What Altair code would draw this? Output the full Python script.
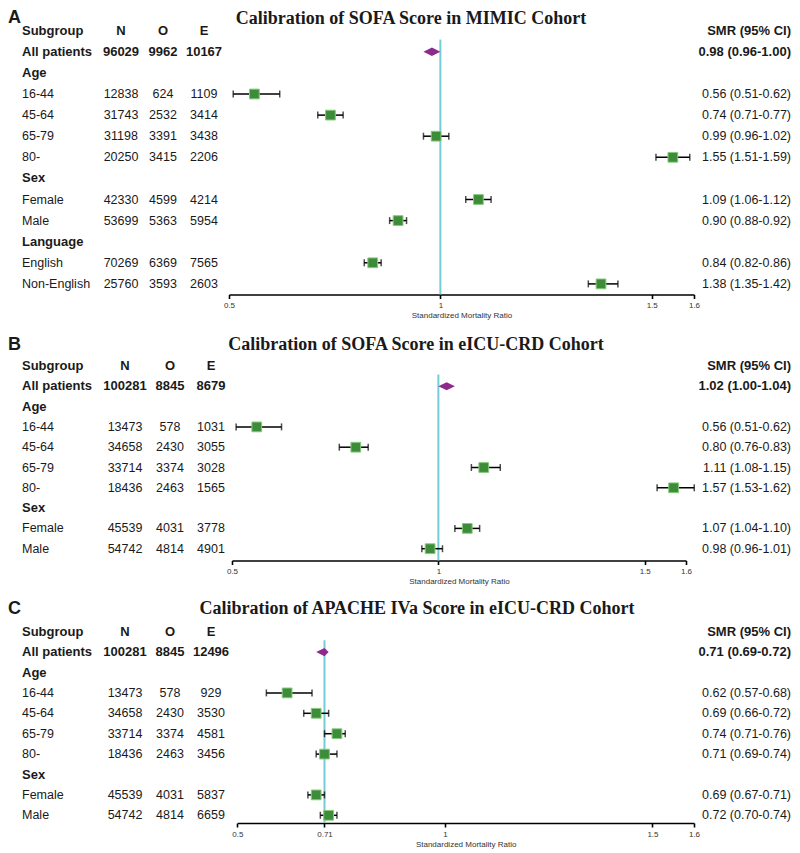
import altair as alt
import pandas as pd

# ---------------- data ----------------
A_labels = ["All patients", "Age", "16-44", "45-64", "65-79", "80-", "Sex", "Female", "Male",
            "Language", "English", "Non-English"]
A_N = ["96029", "", "12838", "31743", "31198", "20250", "", "42330", "53699", "", "70269", "25760"]
A_O = ["9962", "", "624", "2532", "3391", "3415", "", "4599", "5363", "", "6369", "3593"]
A_E = ["10167", "", "1109", "3414", "3438", "2206", "", "4214", "5954", "", "7565", "2603"]
A_smr = [0.98, None, 0.56, 0.74, 0.99, 1.55, None, 1.09, 0.90, None, 0.84, 1.38]
A_lo = [0.96, None, 0.51, 0.71, 0.96, 1.51, None, 1.06, 0.88, None, 0.82, 1.35]
A_hi = [1.00, None, 0.62, 0.77, 1.02, 1.59, None, 1.12, 0.92, None, 0.86, 1.42]

B_labels = ["All patients", "Age", "16-44", "45-64", "65-79", "80-", "Sex", "Female", "Male"]
B_N = ["100281", "", "13473", "34658", "33714", "18436", "", "45539", "54742"]
B_O = ["8845", "", "578", "2430", "3374", "2463", "", "4031", "4814"]
B_E = ["8679", "", "1031", "3055", "3028", "1565", "", "3778", "4901"]
B_smr = [1.02, None, 0.56, 0.80, 1.11, 1.57, None, 1.07, 0.98]
B_lo = [1.00, None, 0.51, 0.76, 1.08, 1.53, None, 1.04, 0.96]
B_hi = [1.04, None, 0.62, 0.83, 1.15, 1.62, None, 1.10, 1.01]

C_labels = ["All patients", "Age", "16-44", "45-64", "65-79", "80-", "Sex", "Female", "Male"]
C_N = ["100281", "", "13473", "34658", "33714", "18436", "", "45539", "54742"]
C_O = ["8845", "", "578", "2430", "3374", "2463", "", "4031", "4814"]
C_E = ["12496", "", "929", "3530", "4581", "3456", "", "5837", "6659"]
C_smr = [0.71, None, 0.62, 0.69, 0.74, 0.71, None, 0.69, 0.72]
C_lo = [0.69, None, 0.57, 0.66, 0.71, 0.69, None, 0.67, 0.70]
C_hi = [0.72, None, 0.68, 0.72, 0.76, 0.74, None, 0.71, 0.74]

header_cols = ["Subgroup", "N", "O", "E", "SMR (95% CI)"]
titles = ["Calibration of SOFA Score in MIMIC Cohort",
          "Calibration of SOFA Score in eICU-CRD Cohort",
          "Calibration of APACHE IVa Score in eICU-CRD Cohort"]
letters = ["A", "B", "C"]
ref_values = [1.0, 1.0, 0.71]
tick_sets = [[0.5, 1, 1.5, 1.6], [0.5, 1, 1.5, 1.6], [0.5, 0.71, 1, 1.5, 1.6]]
x_domain = [0.5, 1.6]
axis_title = "Standardized Mortality Ratio"

TXT = "#1a1a1a"
GREEN = "#3d8c3a"
GREEN_EDGE = "#86c97c"
PURPLE = "#8e2a8e"
CYAN = "#74cdd6"
SANS = "Liberation Sans"
SERIF = "Liberation Serif"


def panel(i, labels, N, O, E, smr, lo, hi, top, H, header, step, axis_py,
          xr, cN, cO, cE, title_cx, title_y, letter_y):
    d0 = -(header - top) / step
    d1 = d0 + H / step
    yscale = alt.Scale(domain=[d0, d1], reverse=True, nice=False, zero=False)
    xaxis = alt.Axis(values=tick_sets[i], format=".2~f", title=axis_title,
                     offset=(axis_py - top) - H, grid=False, domainColor="black",
                     domainWidth=1.6, tickColor="black", tickWidth=1.6, tickSize=4,
                     labelFontSize=8, labelFont=SANS, labelColor="#333",
                     labelPadding=3, labelFlush=False, labelOverlap=False,
                     titleFont=SANS, titleFontSize=8, titleFontWeight="normal",
                     titleColor="#333", titlePadding=2)
    xscale = alt.Scale(domain=x_domain, range=xr, nice=False, zero=False)

    rows = list(range(1, len(labels) + 1))
    tab = pd.DataFrame({
        "row": rows, "label": labels, "N": N, "O": O, "E": E,
        "smr_txt": [f"{s:.2f} ({l:.2f}-{h:.2f})" if s is not None else ""
                    for s, l, h in zip(smr, lo, hi)],
        "bold": [1 if (lab == "All patients" or n == "") else 0 for lab, n in zip(labels, N)],
    })
    head = pd.DataFrame({"row": [0], "label": [header_cols[0]], "N": [header_cols[1]],
                         "O": [header_cols[2]], "E": [header_cols[3]],
                         "smr_txt": [header_cols[4]], "bold": [1]})
    tab = pd.concat([head, tab], ignore_index=True)

    pts = pd.DataFrame({"row": rows, "label": labels, "smr": smr, "lo": lo, "hi": hi})
    pts = pts[(pts["label"] != "All patients") & pts["smr"].notna()]

    allp = labels.index("All patients") + 1
    k = labels.index("All patients")
    dia = pd.DataFrame({"x": [lo[k], smr[k], hi[k]],
                        "y1": [allp, allp - 0.2, allp],
                        "y2": [allp, allp + 0.2, allp]})
    refdf = pd.DataFrame({"ref": [ref_values[i]], "ytop": [0.42]})

    layers = []
    layers.append(alt.Chart(refdf).mark_rule(color=CYAN, strokeWidth=2).encode(
        x=alt.X("ref:Q", scale=xscale, axis=xaxis),
        y=alt.Y("ytop:Q", scale=yscale, axis=None),
        y2=alt.value(axis_py - top)))
    layers.append(alt.Chart(pts).mark_rule(color="black", strokeWidth=1.5).encode(
        x=alt.X("lo:Q", scale=xscale, axis=xaxis), x2="hi:Q",
        y=alt.Y("row:Q", scale=yscale, axis=None)))
    for f in ["lo", "hi"]:
        layers.append(alt.Chart(pts).mark_tick(color="black", orient="vertical",
                                               size=7, thickness=1.5).encode(
            x=alt.X(f"{f}:Q", scale=xscale, axis=xaxis),
            y=alt.Y("row:Q", scale=yscale, axis=None)))
    layers.append(alt.Chart(pts).mark_square(size=95, fill=GREEN, fillOpacity=1,
                                             stroke=GREEN_EDGE, strokeWidth=1).encode(
        x=alt.X("smr:Q", scale=xscale, axis=xaxis),
        y=alt.Y("row:Q", scale=yscale, axis=None)))
    layers.append(alt.Chart(dia).mark_area(color=PURPLE, orient="vertical",
                                           opacity=1).encode(
        x=alt.X("x:Q", scale=xscale, axis=xaxis),
        y=alt.Y("y1:Q", scale=yscale, axis=None), y2="y2:Q"))

    def txt(field, x, align, bold):
        return alt.Chart(tab).transform_filter(
            f"datum.bold == {1 if bold else 0}").mark_text(
            align=align, baseline="middle", font=SANS,
            fontSize=13 if bold else 12.5,
            fontWeight="bold" if bold else "normal", color=TXT).encode(
            x=alt.value(x), y=alt.Y("row:Q", scale=yscale, axis=None),
            text=f"{field}:N")

    for b in [False, True]:
        layers.append(txt("label", 14, "left", b))
        layers.append(txt("N", cN, "center", b))
        layers.append(txt("O", cO, "center", b))
        layers.append(txt("E", cE, "center", b))
        layers.append(txt("smr_txt", 783, "right", b))

    tdf = pd.DataFrame({"t": [titles[i]], "l": [letters[i]]})
    layers.append(alt.Chart(tdf).mark_text(align="center", baseline="middle", font=SERIF,
                                           fontSize=18, fontWeight="bold", color=TXT).encode(
        x=alt.value(title_cx), y=alt.value(title_y), text="t:N"))
    layers.append(alt.Chart(tdf).mark_text(align="left", baseline="middle", font=SANS,
                                           fontSize=18, fontWeight="bold", color=TXT).encode(
        x=alt.value(0), y=alt.value(letter_y), text="l:N"))

    return alt.layer(*layers).properties(width=784, height=H)


pA = panel(0, A_labels, A_N, A_O, A_E, A_smr, A_lo, A_hi, top=8, H=325, header=30.7,
           step=21.1, axis_py=294.5, xr=[221, 686], cN=113, cO=155, cE=196,
           title_cx=403, title_y=11, letter_y=10)
pB = panel(1, B_labels, B_N, B_O, B_E, B_smr, B_lo, B_hi, top=333, H=263, header=366,
           step=20.3, axis_py=560.5, xr=[224, 678], cN=117, cO=162, cE=203,
           title_cx=408, title_y=12, letter_y=12)
pC = panel(2, C_labels, C_N, C_O, C_E, C_smr, C_lo, C_hi, top=596, H=256, header=631.7,
           step=20.4, axis_py=823, xr=[229.3, 686], cN=117, cO=162, cE=203,
           title_cx=409, title_y=13, letter_y=13)

chart = alt.vconcat(pA, pB, pC, spacing=0).resolve_scale(
    x="independent", y="independent").properties(
    padding={"left": 0, "top": 0, "right": 0, "bottom": 0}).configure_view(strokeWidth=0)

chart.save("out.html", embed_options={"renderer": "svg", "actions": False})
